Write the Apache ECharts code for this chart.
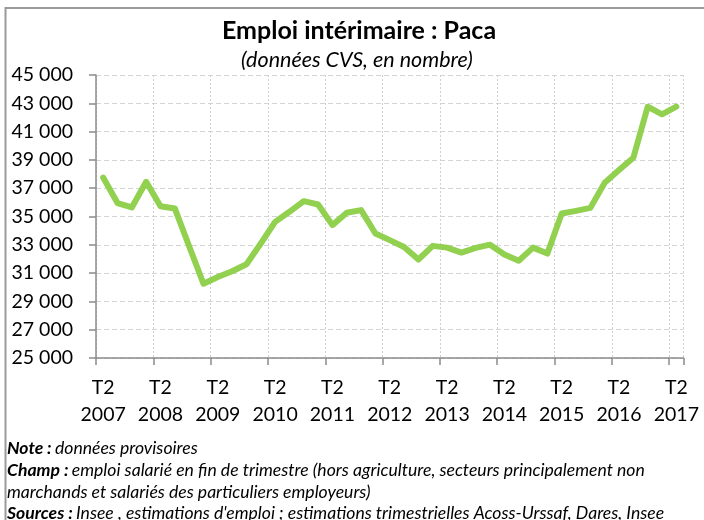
<!DOCTYPE html>
<html>
<head>
<meta charset="utf-8">
<script src="https://cdn.jsdelivr.net/npm/echarts@6/dist/echarts.min.js"></script>
<style>
html,body{margin:0;padding:0;background:#fff;}
#chart{width:704px;height:520px;}
</style>
</head>
<body>
<div id="chart"></div>
<script>
var categories = [
  'T2 2007','T3 2007','T4 2007','T1 2008',
  'T2 2008','T3 2008','T4 2008','T1 2009',
  'T2 2009','T3 2009','T4 2009','T1 2010',
  'T2 2010','T3 2010','T4 2010','T1 2011',
  'T2 2011','T3 2011','T4 2011','T1 2012',
  'T2 2012','T3 2012','T4 2012','T1 2013',
  'T2 2013','T3 2013','T4 2013','T1 2014',
  'T2 2014','T3 2014','T4 2014','T1 2015',
  'T2 2015','T3 2015','T4 2015','T1 2016',
  'T2 2016','T3 2016','T4 2016','T1 2017',
  'T2 2017'
];
var emploi = [
  37750, 35950, 35640, 37450,
  35730, 35570, 32900, 30250,
  30730, 31130, 31630, 33090,
  34620, 35330, 36085, 35850,
  34390, 35260, 35450, 33800,
  33330, 32840, 31960, 32925,
  32800, 32450, 32780, 33010,
  32320, 31870, 32800, 32380,
  35210, 35400, 35610, 37380,
  38280, 39150, 42760, 42220,
  42760
];
var yTicks = { min: 25000, max: 45000, interval: 2000 };

var FONT = 'Lato, "Open Sans", sans-serif';
function fmt(v){ return String(v).replace(/\B(?=(\d{3})+(?!\d))/g, ' '); }

var NOTE = 17.6;
var chart = echarts.init(document.getElementById('chart'));
chart.setOption({
  animation: false,
  backgroundColor: '#ffffff',
  grid: { left: 96, right: 20.5, top: 75, bottom: 162, containLabel: false },
  xAxis: {
    type: 'category',
    data: categories,
    boundaryGap: true,
    axisLine: { lineStyle: { color: '#8c8c8c', width: 1.5 } },
    axisTick: { show: true, interval: 3, length: 7, lineStyle: { color: '#8c8c8c', width: 1.5 } },
    axisLabel: {
      interval: 3,
      margin: 16,
      color: '#000',
      fontFamily: FONT,
      fontSize: 19.5,
      lineHeight: 27,
      formatter: function(v){ return v.replace(' ', '\n'); }
    },
    splitLine: { show: true, interval: 3, lineStyle: { color: '#cfcfcf', type: [2, 2], width: 1 } }
  },
  yAxis: {
    type: 'value',
    min: yTicks.min,
    max: yTicks.max,
    interval: yTicks.interval,
    axisLine: { show: true, lineStyle: { color: '#8c8c8c', width: 1.5 } },
    axisTick: { show: true, length: 7, lineStyle: { color: '#8c8c8c', width: 1.5 } },
    axisLabel: {
      margin: 23,
      color: '#000',
      fontFamily: FONT,
      fontSize: 19.5,
      formatter: fmt
    },
    splitLine: { lineStyle: { color: '#d4d4d4', type: [5, 3], width: 1.2 } }
  },
  series: [{
    type: 'line',
    data: emploi,
    showSymbol: false,
    symbol: 'none',
    lineStyle: { color: '#92D050', width: 6, cap: 'round', join: 'round' },
    itemStyle: { color: '#92D050' }
  }],
  graphic: [
    { type: 'rect', silent: true, z: -1, shape: { x: 5.5, y: 8, width: 760, height: 560 },
      style: { fill: 'none', stroke: '#9a9a9a', lineWidth: 2 } },
    { type: 'text', x: 359, y: 31, style: { text: 'Emploi intérimaire : Paca', font: 'bold 25px ' + FONT, fill: '#000', textAlign: 'center', textVerticalAlign: 'middle' } },
    { type: 'text', x: 357, y: 60, style: { text: '(données CVS, en nombre)', font: 'italic 21.5px ' + FONT, fill: '#000', textAlign: 'center', textVerticalAlign: 'middle' } },
    { type: 'text', x: 7, y: 448, style: { text: '{b|Note :} {i|données provisoires}', textVerticalAlign: 'middle',
      rich: { b: { font: 'italic bold ' + NOTE + 'px ' + FONT, fill: '#000' }, i: { font: 'italic ' + NOTE + 'px ' + FONT, fill: '#000' } } } },
    { type: 'text', x: 7, y: 470, style: { text: '{b|Champ :} {i|emploi salarié en fin de trimestre (hors agriculture, secteurs principalement non}', textVerticalAlign: 'middle',
      rich: { b: { font: 'italic bold ' + NOTE + 'px ' + FONT, fill: '#000' }, i: { font: 'italic ' + NOTE + 'px ' + FONT, fill: '#000' } } } },
    { type: 'text', x: 7, y: 492, style: { text: 'marchands et salariés des particuliers employeurs)', font: 'italic ' + NOTE + 'px ' + FONT, fill: '#000', textVerticalAlign: 'middle' } },
    { type: 'text', x: 7, y: 513, style: { text: '{b|Sources :} {i|Insee , estimations d\'emploi ; estimations trimestrielles Acoss-Urssaf, Dares, Insee}', textVerticalAlign: 'middle',
      rich: { b: { font: 'italic bold ' + NOTE + 'px ' + FONT, fill: '#000' }, i: { font: 'italic ' + NOTE + 'px ' + FONT, fill: '#000' } } } }
  ]
});
</script>
</body>
</html>
